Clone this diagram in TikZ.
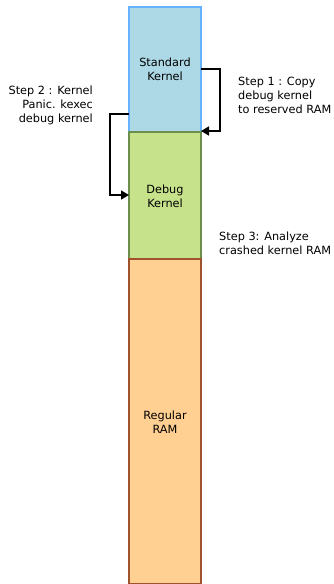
\documentclass[tikz,border=0pt]{standalone}
\usepackage{fontspec}
\setmainfont{DejaVu Sans}
\usetikzlibrary{arrows.meta}
\definecolor{stdfill}{HTML}{ADD8E6}
\definecolor{stdline}{HTML}{66B2FF}
\definecolor{dbgfill}{HTML}{C6E28B}
\definecolor{dbgline}{HTML}{6D8F4E}
\definecolor{ramfill}{HTML}{FFD092}
\definecolor{ramline}{HTML}{A0522D}
\begin{document}
\begin{tikzpicture}[x=1pt,y=-1pt,
  txt/.style={font=\fontsize{11.3}{14}\selectfont, inner sep=0pt},
  lbl/.style={txt, align=left, anchor=north west},
  lblr/.style={txt, align=right, anchor=north east},
  blk/.style={line width=1.5pt, align=center, inner sep=0pt, minimum width=72pt, anchor=north},
  conn/.style={line width=1.6pt, -{Triangle[length=8pt,width=9pt]}}]
\useasboundingbox (0,0) rectangle (334,584);
\node[blk, draw=stdline, fill=stdfill, minimum height=125pt] (std) at (165,6) {};
\node[blk, draw=dbgline, fill=dbgfill, minimum height=127pt] (dbg) at (165,131) {};
\node[blk, draw=ramline, fill=ramfill, minimum height=325pt] (ram) at (165,258) {};
\node[txt, align=center, anchor=north] (stdt) at (165,58) {Standard\\Kernel};
\node[txt, align=center, anchor=north] (dbgt) at (165,185) {Debug\\Kernel};
\node[txt, align=center, anchor=north] (ramt) at (165,411) {Regular\\RAM};
\coordinate (s1a) at (201,69);
\coordinate (s1b) at (220,69);
\coordinate (s1c) at (220,131);
\coordinate (s1d) at (201,131);
\draw[conn] (s1a) -- (s1b) -- (s1c) -- (s1d);
\coordinate (s2a) at (129,114);
\coordinate (s2b) at (110,114);
\coordinate (s2c) at (110,195);
\coordinate (s2d) at (129,195);
\draw[conn] (s2a) -- (s2b) -- (s2c) -- (s2d);
\node[lbl] (step1) at (238,77) {Step 1 : Copy\\debug kernel\\to reserved RAM};
\node[lblr] (step2) at (93,86) {Step 2 : Kernel\\Panic. kexec\\debug kernel};
\node[lbl] (step3) at (219,232) {Step 3: Analyze\\crashed kernel RAM};
\end{tikzpicture}
\end{document}
